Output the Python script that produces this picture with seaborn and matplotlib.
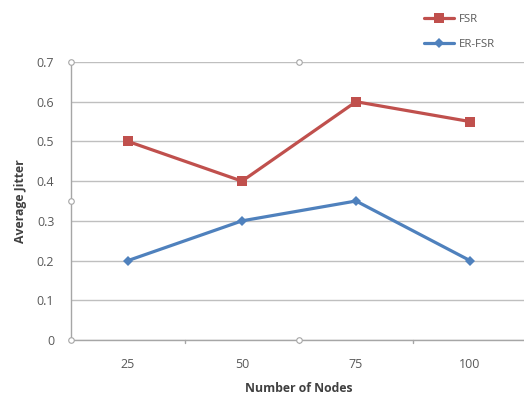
import matplotlib
matplotlib.use("Agg")
import matplotlib.pyplot as plt
import seaborn as sns
import pandas as pd
from matplotlib.lines import Line2D

nodes = ["25", "50", "75", "100"]
fsr = [0.5, 0.4, 0.6, 0.55]
er_fsr = [0.2, 0.3, 0.35, 0.2]
series_names = ["FSR", "ER-FSR"]
y_ticks = [0, 0.1, 0.2, 0.3, 0.4, 0.5, 0.6, 0.7]

sns.set_theme(style="white")
plt.rcParams["font.family"] = ["Open Sans", "DejaVu Sans"]

df = pd.DataFrame({
    "pos": list(range(len(nodes))) * 2,
    "jitter": fsr + er_fsr,
    "series": [series_names[0]] * len(nodes) + [series_names[1]] * len(nodes),
})

fig = plt.figure(figsize=(5.24, 3.95), dpi=100)
ax = fig.add_axes([71 / 524, 55 / 395, 456 / 524, 278 / 395])

palette = {"FSR": "#C0504D", "ER-FSR": "#4F81BD"}
sns.lineplot(data=df, x="pos", y="jitter", hue="series", style="series",
             markers={"FSR": "s", "ER-FSR": "D"}, dashes=False,
             palette=palette, linewidth=2.3, markersize=7, markeredgewidth=0,
             ax=ax, legend=False, zorder=3)
# diamond a bit smaller than the square
for line in ax.lines:
    if line.get_marker() == "D":
        line.set_markersize(5.5)

ax.set_xlim(-0.5, 3.5)
ax.set_ylim(0, 0.7)
ax.set_yticks(y_ticks)
ax.set_yticklabels(["0" if v == 0 else f"{v:.1f}" for v in y_ticks])
ax.set_xticks(range(len(nodes)))
ax.set_xticklabels(nodes)
ax.tick_params(axis="both", length=0, labelsize=9, labelcolor="#595959", pad=12)
ax.tick_params(axis="x", pad=13)

ax.grid(axis="y", color="#BFBFBF", linewidth=1.0)
ax.grid(axis="x", visible=False)
for side in ["top", "right"]:
    ax.spines[side].set_visible(False)
for side in ["left", "bottom"]:
    ax.spines[side].set_color("#A6A6A6")
    ax.spines[side].set_linewidth(1.0)

# category boundary ticks on the x axis
for b in [0.5, 1.5, 2.5]:
    ax.plot([b, b], [0, -0.008], color="#A6A6A6", lw=1.0, clip_on=False)

ax.set_xlabel("Number of Nodes", fontsize=8.8, fontweight="bold", color="#404040", labelpad=8)
ax.set_ylabel("Average Jitter", fontsize=8.8, fontweight="bold", color="#404040", labelpad=7)

# selection handles around the plot area
for hx, hy in [(0, 1), (0.5, 1), (1, 1), (0, 0.5), (1, 0.5), (0, 0), (0.5, 0), (1, 0)]:
    ax.plot(hx, hy, marker="o", markersize=4, markerfacecolor="white",
            markeredgecolor="#A6A6A6", markeredgewidth=0.8,
            transform=ax.transAxes, clip_on=False, zorder=5)

# legend in the top right corner
handles = [
    Line2D([], [], color=palette["FSR"], marker="s", markersize=6.5, lw=2.3, markeredgewidth=0),
    Line2D([], [], color=palette["ER-FSR"], marker="D", markersize=5, lw=2.3, markeredgewidth=0),
]
fig.legend(handles, series_names, loc="upper left", bbox_to_anchor=(414 / 524, 1 - 4 / 395),
           frameon=False, fontsize=8.2, labelcolor="#595959", handlelength=2.6,
           labelspacing=1.25, handletextpad=0.4)

fig.savefig("out.png", dpi=100)
